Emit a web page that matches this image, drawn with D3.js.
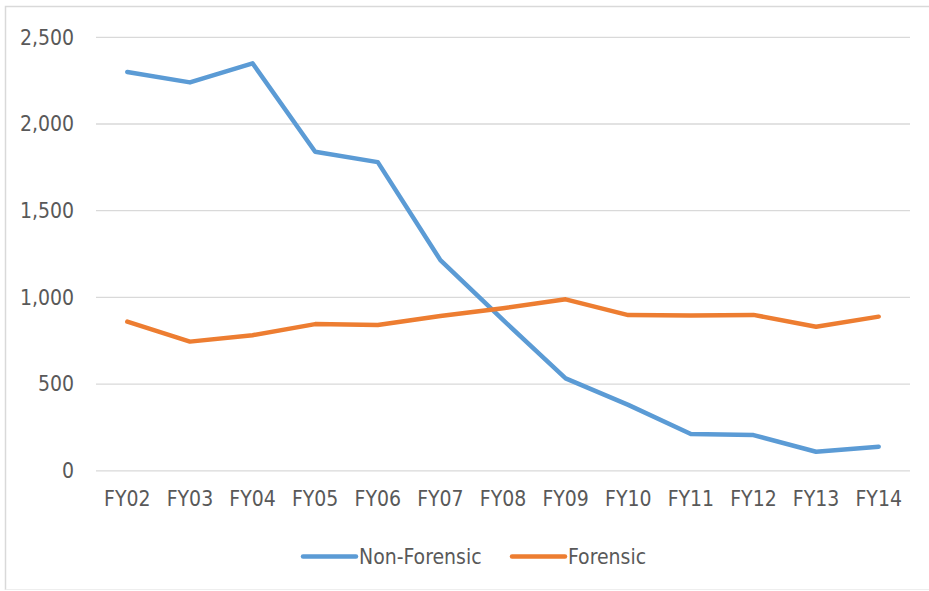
<!DOCTYPE html>
<html>
<head>
<meta charset="utf-8">
<script src="https://cdn.jsdelivr.net/npm/d3@7"></script>
<style>
  html, body { margin: 0; padding: 0; background: #fff; }
  svg { display: block; }
  text { font-family: "Liberation Sans Narrow", "DejaVu Sans Condensed", "Open Sans", sans-serif; fill: #595959; }
</style>
</head>
<body>
<svg id="chart" width="929" height="591"></svg>
<script>
const categories = ["FY02","FY03","FY04","FY05","FY06","FY07","FY08","FY09","FY10","FY11","FY12","FY13","FY14"];
const nonForensic = [2300, 2240, 2350, 1840, 1780, 1215, 870, 533, 380, 212, 206, 110, 139];
const forensic = [860, 745, 782, 846, 841, 893, 938, 989, 898, 896, 899, 831, 889];
const yTicks = [0, 500, 1000, 1500, 2000, 2500];
const seriesNames = ["Non-Forensic", "Forensic"];
const seriesColors = ["#5b9bd5", "#ed7d31"];

const svg = d3.select("#chart");

// outer frame (left, top, faint bottom)
svg.append("path").attr("d", "M5.5,590 L5.5,6.5 L929,6.5")
  .attr("fill", "none").attr("stroke", "#d9d9d9").attr("stroke-width", 1.5);
svg.append("line").attr("x1", 5.5).attr("x2", 929).attr("y1", 589.5).attr("y2", 589.5)
  .attr("stroke", "#eeeeee").attr("stroke-width", 1);

const plotLeft = 96, plotRight = 910, plotTop = 37.3, plotBottom = 470.8;

const x = d3.scaleBand().domain(categories).range([plotLeft, plotRight]).padding(0);
const y = d3.scaleLinear().domain([0, 2500]).range([plotBottom, plotTop]);

// gridlines
const grid = svg.append("g").attr("class", "grid");
grid.selectAll("line").data(yTicks).join("line")
  .attr("x1", plotLeft).attr("x2", plotRight)
  .attr("y1", d => y(d)).attr("y2", d => y(d))
  .attr("stroke", "#d9d9d9").attr("stroke-width", 1.3);

// y axis
const yAxis = svg.append("g").attr("transform", `translate(${plotLeft},0)`)
  .call(d3.axisLeft(y).tickValues(yTicks).tickSize(0).tickPadding(22).tickFormat(d3.format(",")));
yAxis.select(".domain").remove();
yAxis.selectAll("text").style("font-size", "21px").attr("fill", "#595959");

// x axis
const xAxis = svg.append("g").attr("transform", `translate(0,${plotBottom})`)
  .call(d3.axisBottom(x).tickSize(0).tickPadding(20));
xAxis.select(".domain").remove();
xAxis.selectAll("text").style("font-size", "21px").attr("fill", "#595959");

const line = d3.line()
  .x((d, i) => x(categories[i]) + x.bandwidth() / 2)
  .y(d => y(d));

[nonForensic, forensic].forEach((vals, i) => {
  svg.append("path").datum(vals)
    .attr("fill", "none")
    .attr("stroke", seriesColors[i])
    .attr("stroke-width", 4.5)
    .attr("stroke-linejoin", "round")
    .attr("stroke-linecap", "round")
    .attr("d", line);
});

// legend
const legendItems = [
  { name: seriesNames[0], color: seriesColors[0], x0: 303 },
  { name: seriesNames[1], color: seriesColors[1], x0: 512 }
];
const lg = svg.append("g");
legendItems.forEach(it => {
  lg.append("line").attr("x1", it.x0).attr("x2", it.x0 + 53)
    .attr("y1", 556.5).attr("y2", 556.5)
    .attr("stroke", it.color).attr("stroke-width", 4.5).attr("stroke-linecap", "round");
  lg.append("text").attr("x", it.x0 + 56).attr("y", 556.5)
    .attr("dy", "0.35em").style("font-size", "21px").text(it.name);
});
</script>
</body>
</html>
